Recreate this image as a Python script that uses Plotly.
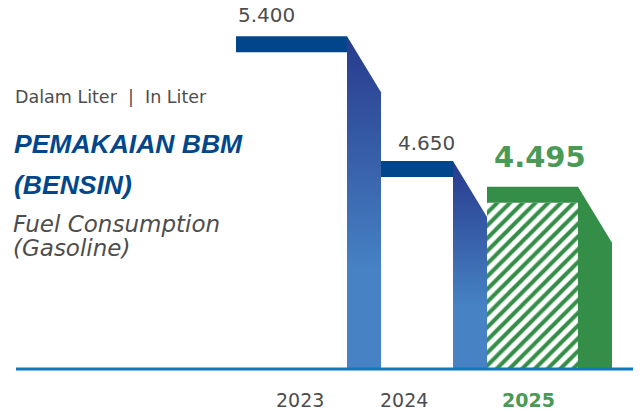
import plotly.graph_objects as go

# ---- data -------------------------------------------------------------
YEARS = ["2023", "2024", "2025"]
FUEL_LITERS = [5400, 4650, 4495]

# ---- styling / layout constants ----------------------------------------
W, H = 642, 412
Y_RANGE = [3141, 5618]          # truncated value axis
AXIS_FLOOR = 3400               # value at the drawn baseline
PX_PER_UNIT = H / (Y_RANGE[1] - Y_RANGE[0])

FIRST_LEFT = 236                # left edge of the first block (x axis is in px units)
FRONT_W = [111, 72, 91]         # width of each block's front face
SIDE_W = 34                     # width of the slanted side face
CAP_PX = 16                     # thickness of the top cap
SLANT_PX = 56                   # drop of the side face's top edge

BLUE_CAP = "#01468b"
SIDE_TOP = "#283a8c"
SIDE_MID = "#4682c4"
GREEN = "#358e48"
GREEN_TEXT = "#4a9a55"
GRAY = "#4d4d4d"
TITLE_BLUE = "#02478b"
BASELINE = "#0f78bf"

SANS = "DejaVu Sans"
TITLE_FONT = "Liberation Sans, Arial, sans-serif"

cap_units = CAP_PX / PX_PER_UNIT
slant_units = SLANT_PX / PX_PER_UNIT


def paper_y(py):
    return 1 - py / H


# block geometry derived from the chain of widths
lefts = []
x = FIRST_LEFT
for w in FRONT_W:
    lefts.append(x)
    x += w + SIDE_W
centers = [l + w / 2 for l, w in zip(lefts, FRONT_W)]
highlight = [i == len(YEARS) - 1 for i in range(len(YEARS))]

fig = go.Figure()

# front faces (plain for past years, hatched for the current one)
fig.add_trace(go.Bar(
    x=centers,
    y=[v - cap_units - AXIS_FLOOR for v in FUEL_LITERS],
    base=[AXIS_FLOOR] * len(YEARS),
    width=FRONT_W,
    marker=dict(
        color="white",
        line=dict(width=0),
        pattern=dict(
            shape=["/" if h else "" for h in highlight],
            fgcolor=GREEN,
            bgcolor="white",
            fgopacity=1,
            size=9,
            solidity=0.45,
        ),
    ),
    hoverinfo="skip",
    showlegend=False,
))

# top caps
fig.add_trace(go.Bar(
    x=centers,
    y=[cap_units] * len(YEARS),
    base=[v - cap_units for v in FUEL_LITERS],
    width=FRONT_W,
    marker=dict(color=[GREEN if h else BLUE_CAP for h in highlight], line=dict(width=0)),
    hoverinfo="skip",
    showlegend=False,
))

# slanted side faces
for left, w, v, h in zip(lefts, FRONT_W, FUEL_LITERS, highlight):
    xr = left + w
    xs = [xr, xr + SIDE_W, xr + SIDE_W, xr, xr]
    ys = [v, v - slant_units, AXIS_FLOOR, AXIS_FLOOR, v]
    if h:
        fig.add_trace(go.Scatter(
            x=xs, y=ys, mode="none", fill="toself", fillcolor=GREEN,
            hoverinfo="skip", showlegend=False,
        ))
    else:
        fig.add_trace(go.Scatter(
            x=xs, y=ys, mode="none", fill="toself",
            fillgradient=dict(
                type="vertical",
                colorscale=[[0, SIDE_MID], [0.3, SIDE_MID], [1, SIDE_TOP]],
            ),
            hoverinfo="skip", showlegend=False,
        ))

# baseline
fig.add_shape(type="line", x0=16, x1=633, y0=AXIS_FLOOR, y1=AXIS_FLOOR,
              line=dict(color=BASELINE, width=3), layer="above")

# value labels
LABEL_DX = [0, 15, 5]
LABEL_LIFT = [21, 18, 30]
for left, dx, lift, v, h in zip(lefts, LABEL_DX, LABEL_LIFT, FUEL_LITERS, highlight):
    txt = f"{v:,}".replace(",", ".")
    fig.add_annotation(
        x=left + dx, y=v, xanchor="left", yanchor="middle", yshift=lift,
        text=f"<b>{txt}</b>" if h else txt, showarrow=False,
        font=dict(family=SANS, size=29 if h else 20, color=GREEN_TEXT if h else GRAY),
    )

# year labels
YEAR_X = [300, 404, 528]
for yx, yr, h in zip(YEAR_X, YEARS, highlight):
    fig.add_annotation(
        x=yx, y=paper_y(400), yref="paper", xanchor="center", yanchor="middle",
        text=f"<b>{yr}</b>" if h else yr, showarrow=False,
        font=dict(family=SANS, size=19, color=GREEN_TEXT if h else GRAY),
    )

# title block
fig.add_annotation(x=13, y=paper_y(97), yref="paper", xanchor="left", yanchor="middle",
                   text="Dalam Liter\u00a0\u00a0|\u00a0\u00a0In Liter", showarrow=False,
                   font=dict(family=SANS, size=17.5, color=GRAY))
for text, py in [("PEMAKAIAN BBM", 144), ("(BENSIN)", 185)]:
    fig.add_annotation(x=12, y=paper_y(py), yref="paper", xanchor="left", yanchor="middle",
                       text=f"<b><i>{text}</i></b>", showarrow=False,
                       font=dict(family=TITLE_FONT, size=26.5, color=TITLE_BLUE))
for text, py in [("Fuel Consumption", 224), ("(Gasoline)", 248)]:
    fig.add_annotation(x=11, y=paper_y(py), yref="paper", xanchor="left", yanchor="middle",
                       text=f"<i>{text}</i>", showarrow=False,
                       font=dict(family=SANS, size=23, color=GRAY))

fig.update_layout(
    width=W, height=H,
    margin=dict(l=0, r=0, t=0, b=0),
    paper_bgcolor="white", plot_bgcolor="white",
    barmode="overlay",
    xaxis=dict(range=[0, W], visible=False, fixedrange=True),
    yaxis=dict(range=Y_RANGE, visible=False, fixedrange=True),
)

fig.write_html("out.html")
